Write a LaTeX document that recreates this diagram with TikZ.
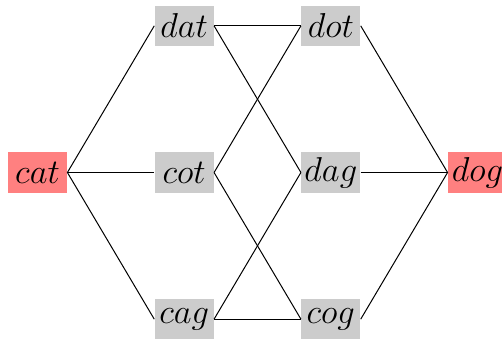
\documentclass[tikz,border=0pt]{standalone}
\usepackage{amsmath}
\usepackage{xcolor}
\usepackage{tikz}
\usetikzlibrary{positioning}

\begin{document}
\begin{tikzpicture}[
      node distance=73.33pt, on grid,
      word/.style={fill=black!20, minimum width=29.5pt, minimum height=20pt, inner sep=0pt, font=\LARGE},
      endword/.style={word, fill=red!50},
      link/.style={draw=black, line width=0.5pt}
    ]
    \useasboundingbox (-18.75pt,-84.75pt) rectangle (232.25pt,86.25pt);
    \node[endword] (cat) {$cat$};
    \node[word, right=of cat] (cot) {$cot$};
    \node[word, above=of cot] (dat) {$dat$};
    \node[word, below=of cot] (cag) {$cag$};
    \node[word, right=of cot] (dag) {$dag$};
    \node[word, above=of dag] (dot) {$dot$};
    \node[word, below=of dag] (cog) {$cog$};
    \node[endword, right=of dag] (dog) {$dog$};

    \draw[link] (cat.east) -- (dat.west);
    \draw[link] (cat.east) -- (cot.west);
    \draw[link] (cat.east) -- (cag.west);
    \draw[link] (dat.east) -- (dot.west);
    \draw[link] (dat.east) -- (dag.west);
    \draw[link] (cot.east) -- (dot.west);
    \draw[link] (cot.east) -- (cog.west);
    \draw[link] (cag.east) -- (dag.west);
    \draw[link] (cag.east) -- (cog.west);
    \draw[link] (dot.east) -- (dog.west);
    \draw[link] (dag.east) -- (dog.west);
    \draw[link] (cog.east) -- (dog.west);
  \end{tikzpicture}
\end{document}
